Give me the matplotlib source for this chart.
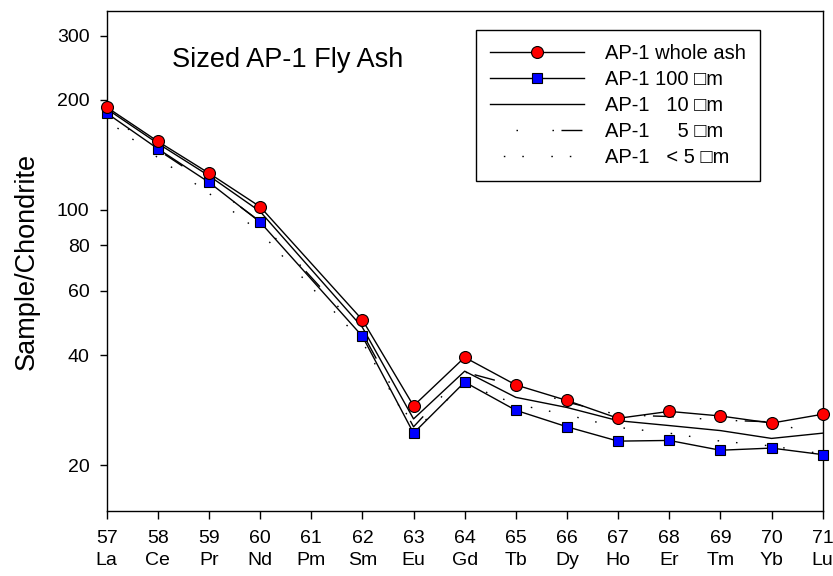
import numpy as np
import matplotlib
matplotlib.use("Agg")
import matplotlib.pyplot as plt
from matplotlib.ticker import FixedLocator, NullLocator

plt.rcParams['font.family'] = ['Liberation Sans', 'DejaVu Sans']

# atomic numbers / symbols on the x axis (Pm has no data)
tick_z = [57, 58, 59, 60, 61, 62, 63, 64, 65, 66, 67, 68, 69, 70, 71]
tick_sym = ["La", "Ce", "Pr", "Nd", "Pm", "Sm", "Eu", "Gd", "Tb", "Dy", "Ho", "Er", "Tm", "Yb", "Lu"]

ree_z = [57, 58, 59, 60, 62, 63, 64, 65, 66, 67, 68, 69, 70, 71]

whole_ash = [191, 154, 126, 102, 50, 29.1, 39.5, 33.2, 30.1, 26.9, 28.1, 27.3, 26.1, 27.6]
um100 = [184, 147, 119, 92.6, 45.1, 24.5, 33.8, 28.3, 25.5, 23.3, 23.4, 22.0, 22.3, 21.4]
um10 = [189, 152, 124, 99, 47.7, 26.8, 36.2, 30.7, 28.8, 26.5, 25.7, 24.9, 23.7, 24.5]
um5 = [183, 146, 118, 93, 46, 25.5, 36, 33, 29.8, 27.5, 27.2, 26.6, 26.3, 24.0]
um_lt5 = [176, 139, 111, 87, 43.5, 24.8, 33.5, 29.4, 27.5, 25.4, 24.5, 23.3, 22.6, 21.5]

labels = ["AP-1 whole ash", "AP-1 100 \u25a1m", "AP-1   10 \u25a1m",
          "AP-1     5 \u25a1m", "AP-1   < 5 \u25a1m"]

fig = plt.figure(figsize=(8.33, 5.76), dpi=100)
ax = fig.add_axes([0.1281, 0.1128, 0.8595, 0.868])

ax.plot(ree_z, whole_ash, c="k", lw=1.0, marker="o", ms=8.6, mfc="red",
        mec="k", mew=0.8, clip_on=False, zorder=6, label=labels[0])
ax.plot(ree_z, um100, c="k", lw=1.0, marker="s", ms=7.6, mfc="blue",
        mec="k", mew=0.8, clip_on=False, zorder=5, label=labels[1])
ax.plot(ree_z, um10, c="k", lw=1.0, zorder=4, label=labels[2])
ax.plot(ree_z, um5, c="k", lw=1.0, zorder=3, label=labels[3],
        linestyle=(47.5, (1.1, 24.8, 1.1, 5.4, 15.1, 18.7)))
ax.plot(ree_z, um_lt5, c="k", lw=1.0, zorder=3, label=labels[4],
        linestyle=(24.6, (1.1, 12.2, 1.1, 19.8)))

ax.set_yscale("log")
ax.set_ylim(15, 350)
ax.set_xlim(57, 71)

ax.yaxis.set_major_locator(FixedLocator([20, 40, 60, 80, 100, 200, 300]))
ax.yaxis.set_minor_locator(NullLocator())
ax.set_yticklabels(["20", "40", "60", "80", "100", "200", "300"])
ax.set_xticks(tick_z)
ax.set_xticklabels([f"{z}\n{s}" for z, s in zip(tick_z, tick_sym)], linespacing=1.35)

ax.tick_params(axis="y", direction="out", length=5.4, width=1.0, labelsize=14, pad=7)
ax.tick_params(axis="x", direction="out", length=5.8, width=1.0, labelsize=14, pad=8)
for sp in ax.spines.values():
    sp.set_linewidth(1.0)

ax.set_ylabel("Sample/Chondrite", fontsize=19.5, labelpad=12)
ax.text(0.091, 0.8886, "Sized AP-1 Fly Ash", transform=ax.transAxes,
        fontsize=19.5, ha="left", va="baseline")

leg = ax.legend(loc="upper left", bbox_to_anchor=(0.516, 0.962), borderaxespad=0,
                fontsize=14.5, numpoints=1, handlelength=4.65, handletextpad=1.05,
                labelspacing=0.35, borderpad=0.7, fancybox=False, framealpha=1,
                edgecolor="k")
leg.get_frame().set_linewidth(1.0)

fig.savefig("out.png", dpi=100)
